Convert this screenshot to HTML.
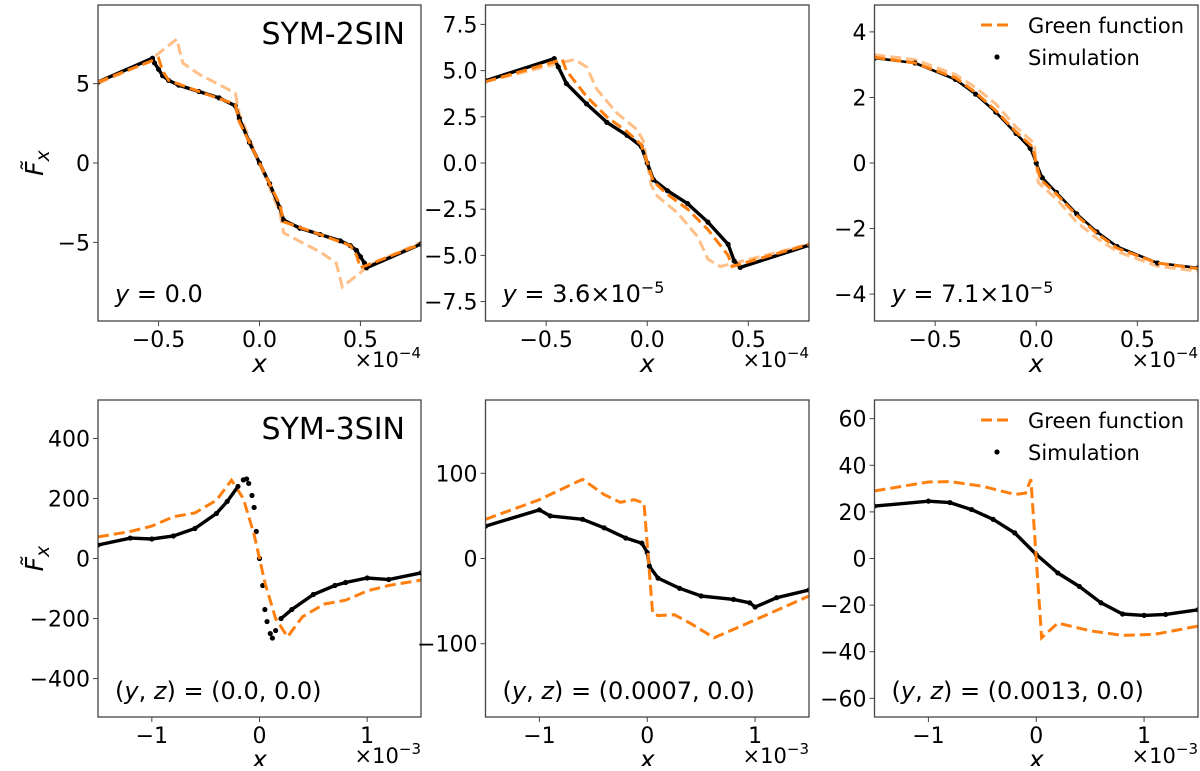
<!DOCTYPE html>
<html><head><meta charset="utf-8"><style>
body{margin:0;background:#fff}
svg text{font-family:"DejaVu Sans","Liberation Sans",sans-serif;fill:#000}
</style></head><body>
<svg id="fig" xmlns="http://www.w3.org/2000/svg" width="1200" height="766" viewBox="0 0 1200 766"></svg>
<script>
// ---- data: panel 1 (SYM-2SIN, y=0)
const p1SimX=[-0.8,-0.53,-0.52,-0.5,-0.48,-0.45,-0.4,-0.3,-0.2,-0.12,-0.1,-0.05,0,0.05,0.1,0.12,0.2,0.3,0.4,0.45,0.48,0.5,0.52,0.53,0.8];
const p1SimY=[5.1,6.6,6.3,5.9,5.5,5.2,4.9,4.5,4.1,3.6,2.8,1.3,0,-1.3,-2.8,-3.6,-4.1,-4.5,-4.9,-5.2,-5.5,-5.9,-6.3,-6.6,-5.1];
const p1GreenX=[-0.8,-0.5,-0.48,-0.45,-0.3,-0.12,-0.1,0,0.1,0.12,0.3,0.45,0.48,0.5,0.8];
const p1GreenY=[5.1,6.6,5.8,5.2,4.5,3.7,2.6,0,-2.6,-3.7,-4.5,-5.2,-5.8,-6.6,-5.1];
const p1LightX=[-0.8,-0.55,-0.41,-0.38,-0.3,-0.12,-0.1,0,0.1,0.12,0.3,0.38,0.41,0.55,0.8];
const p1LightY=[5.0,6.4,7.8,6.3,5.6,4.4,3.1,0,-3.1,-4.4,-5.6,-6.3,-7.8,-6.4,-5.0];
// panel 2 (y=3.6e-5)
const p2SimX=[-0.8,-0.46,-0.44,-0.4,-0.3,-0.2,-0.1,-0.03,0,0.03,0.1,0.2,0.3,0.4,0.43,0.46,0.8];
const p2SimY=[4.45,5.65,5.2,4.3,3.2,2.2,1.5,0.9,0,-0.9,-1.5,-2.2,-3.2,-4.4,-5.3,-5.65,-4.45];
const p2GreenX=[-0.8,-0.42,-0.4,-0.3,-0.2,-0.1,-0.03,0,0.03,0.1,0.2,0.3,0.4,0.42,0.8];
const p2GreenY=[4.4,5.6,5.0,3.6,2.5,1.7,1.0,0,-1.0,-1.7,-2.5,-3.6,-5.0,-5.6,-4.4];
const p2LightX=[-0.8,-0.4,-0.36,-0.3,-0.25,-0.15,-0.05,-0.02,0,0.02,0.05,0.15,0.25,0.3,0.36,0.4,0.8];
const p2LightY=[4.4,5.5,5.6,5.2,4.0,2.7,1.8,1.2,0,-1.2,-1.8,-2.7,-4.0,-5.2,-5.6,-5.5,-4.4];
// panel 3 (y=7.1e-5)
const p3SimX=[-0.8,-0.6,-0.4,-0.3,-0.2,-0.1,-0.03,0,0.03,0.1,0.2,0.3,0.4,0.6,0.8];
const p3SimY=[3.2,3.05,2.55,2.1,1.55,0.9,0.45,0,-0.45,-0.9,-1.55,-2.1,-2.55,-3.05,-3.2];
const p3GreenX=[-0.8,-0.6,-0.4,-0.3,-0.2,-0.1,-0.02,0,0.02,0.1,0.2,0.3,0.4,0.6,0.8];
const p3GreenY=[3.22,3.05,2.6,2.15,1.6,0.95,0.5,0,-0.5,-0.95,-1.6,-2.15,-2.6,-3.05,-3.22];
const p3LightX=[-0.8,-0.6,-0.4,-0.3,-0.2,-0.1,-0.01,0.01,0.1,0.2,0.3,0.4,0.6,0.8];
const p3LightY=[3.3,3.15,2.7,2.3,1.8,1.1,0.6,-0.6,-1.1,-1.8,-2.3,-2.7,-3.15,-3.3];
// panel 4 (SYM-3SIN, (0,0))
const p4SimX=[-1.5,-1.2,-1.0,-0.8,-0.6,-0.4,-0.3,-0.2,-0.15,-0.12,-0.1,-0.07,-0.05,-0.03,0,0.03,0.05,0.07,0.1,0.12,0.15,0.2,0.3,0.5,0.7,0.8,1.0,1.2,1.5];
const p4SimY=[45,68,65,75,100,150,190,240,262,265,250,210,170,90,0,-90,-170,-210,-250,-265,-240,-200,-170,-120,-90,-80,-65,-70,-48];
const p4GreenX=[-1.5,-1.2,-1.0,-0.8,-0.6,-0.4,-0.26,-0.15,-0.05,0,0.05,0.15,0.26,0.4,0.6,0.8,1.0,1.2,1.5];
const p4GreenY=[72,90,108,139,152,194,261,200,80,0,-80,-200,-261,-194,-152,-139,-108,-90,-72];
// panel 5 ((0.0007,0))
const p5SimX=[-1.5,-1.0,-0.9,-0.6,-0.4,-0.2,-0.05,0,0.02,0.1,0.3,0.5,0.8,0.95,1.0,1.2,1.5];
const p5SimY=[38,57,50,46,36,24,18,7,-9,-23,-35,-44,-48,-52,-57,-46,-37];
const p5GreenX=[-1.5,-1.0,-0.6,-0.4,-0.25,-0.12,-0.03,0.05,0.1,0.25,0.4,0.62,1.0,1.5];
const p5GreenY=[46,69,93,75,66,69,65,-64,-67,-66,-76,-93,-72,-44];
// panel 6 ((0.0013,0))
const p6SimX=[-1.5,-1.0,-0.8,-0.6,-0.4,-0.2,0,0.2,0.4,0.6,0.8,1.0,1.2,1.5];
const p6SimY=[22.5,24.6,24,21,16.8,11,1.7,-6.2,-12,-19,-23.8,-24.4,-24,-22];
const p6GreenX=[-1.5,-1.0,-0.8,-0.5,-0.2,-0.1,-0.05,0.05,0.2,0.5,0.8,1.1,1.5];
const p6GreenY=[29,32.8,33,31,27.5,28,34,-34,-27.7,-31,-33,-32.5,-29];
// ticks
const xTicksTop=[-0.5,0,0.5], xTickLabelsTop=["−0.5","0.0","0.5"];
const xTicksBot=[-1,0,1], xTickLabelsBot=["−1","0","1"];
const p1YTicks=[-5,0,5], p1YLabels=["−5","0","5"];
const p2YTicks=[-7.5,-5,-2.5,0,2.5,5,7.5], p2YLabels=["−7.5","−5.0","−2.5","0.0","2.5","5.0","7.5"];
const p3YTicks=[-4,-2,0,2,4], p3YLabels=["−4","−2","0","2","4"];
const p4YTicks=[-400,-200,0,200,400], p4YLabels=["−400","−200","0","200","400"];
const p5YTicks=[-100,0,100], p5YLabels=["−100","0","100"];
const p6YTicks=[-60,-40,-20,0,20,40,60], p6YLabels=["−60","−40","−20","0","20","40","60"];

const NS="http://www.w3.org/2000/svg";
const svg=document.getElementById('fig');
function mk(tag,attrs,parent){const e=document.createElementNS(NS,tag);for(const k in attrs)e.setAttribute(k,attrs[k]);(parent||svg).appendChild(e);return e;}
const ORANGE="#ff7f0e", LIGHT="#ffbf86";

function panel(cfg){
  const g=mk('g',{});
  
  
  const sx=v=>cfg.L+(v-cfg.x0)/(cfg.x1-cfg.x0)*(cfg.R-cfg.L);
  const sy=v=>cfg.B-(v-cfg.y0)/(cfg.y1-cfg.y0)*(cfg.B-cfg.T);
  const clip='c'+cfg.name;
  const cp=mk('clipPath',{id:clip},g);mk('rect',{x:cfg.L,y:cfg.T,width:cfg.R-cfg.L,height:cfg.B-cfg.T},cp);
  const pg=mk('g',{'clip-path':'url(#'+clip+')'},g);
  function line(xs,ys,col,nm){const pts=xs.map((x,i)=>sx(x).toFixed(1)+','+sy(ys[i]).toFixed(1)).join(' ');
    const p=mk('polyline',{points:pts,fill:'none',stroke:col,'stroke-width':3,'stroke-dasharray':'11,5'},pg);
    
    }
  if(cfg.lx) line(cfg.lx,cfg.ly,LIGHT,'green-function-light-line');
  const sw=(cfg.simW===undefined)?3.4:cfg.simW;
  if(sw>0){
    const pts=cfg.sx.map((x,i)=>sx(x).toFixed(1)+','+sy(cfg.sy[i]).toFixed(1)).join(' ');
    const sl=mk('polyline',{points:pts,fill:'none',stroke:'#000','stroke-width':sw,'stroke-linejoin':'round'},pg);
    
    
  }
  cfg.sx.forEach((x,i)=>{const c=mk('circle',{cx:sx(x),cy:sy(cfg.sy[i]),r:2.6,fill:'#000'},pg);
    
    });
  line(cfg.gx,cfg.gy,ORANGE,'green-function-line');
  const fr=mk('rect',{x:cfg.L,y:cfg.T,width:cfg.R-cfg.L,height:cfg.B-cfg.T,fill:'none',stroke:'#444','stroke-width':1.3},g);
  
  
  cfg.yt.forEach((v,i)=>{const y=sy(v);mk('line',{x1:cfg.L-5,x2:cfg.L,y1:y,y2:y,stroke:'#444','stroke-width':1},g);
    const t=mk('text',{x:cfg.L-8,y:y+8,'text-anchor':'end','font-size':22},g);t.textContent=cfg.yl[i];
    
    });
  cfg.xt.forEach((v,i)=>{const x=sx(v);mk('line',{x1:x,x2:x,y1:cfg.B,y2:cfg.B+5,stroke:'#444','stroke-width':1},g);
    const t=mk('text',{x:x,y:cfg.B+26,'text-anchor':'middle','font-size':22},g);t.textContent=cfg.xl[i];
    
    });
  const xl=mk('text',{x:(cfg.L+cfg.R)/2,y:cfg.B+51,'text-anchor':'middle','font-size':25,'font-style':'italic'},g);xl.textContent='x';
  
  
  const ex=mk('text',{x:cfg.R,y:cfg.B+46,'text-anchor':'end','font-size':21},g);
  ex.innerHTML='×10<tspan dy="-9" font-size="15">'+cfg.exp+'</tspan>';
  
  
  const an=mk('text',{x:cfg.L+17,y:cfg.annY,'font-size':24},g);an.innerHTML=cfg.ann;
  
  
  if(cfg.title){const t=mk('text',{x:cfg.R-16,y:cfg.T+39,'text-anchor':'end','font-size':30},g);t.textContent=cfg.title;
    
    }
  if(cfg.ylab){const t=mk('text',{x:0,y:0,'font-size':25,'font-style':'italic',transform:'translate('+(cfg.L-55)+','+((cfg.T+cfg.B)/2)+') rotate(-90)','text-anchor':'middle'},g);
    t.innerHTML='F&#771;<tspan dy="6" font-size="19">x</tspan>';
    
    }
  if(cfg.legend){const ly=cfg.T+20;const lg=mk('g',{},g);
    
    
    mk('line',{x1:981,x2:1013,y1:ly,y2:ly,stroke:ORANGE,'stroke-width':3,'stroke-dasharray':'11,5'},lg);
    const a=mk('text',{x:1028,y:ly+8,'font-size':21},lg);a.textContent='Green function';
    
    
    mk('circle',{cx:997,cy:ly+32,r:2.6,fill:'#000'},lg);
    const b=mk('text',{x:1028,y:ly+40,'font-size':21},lg);b.textContent='Simulation';
    
    }
}
const TT=5,TB=321,BT=400,BB=717;
const C=[[98,421],[485.5,809],[874.5,1198]];
panel({name:'panel-2sin-y0',L:C[0][0],R:C[0][1],T:TT,B:TB,x0:-0.8,x1:0.8,y0:-9.95,y1:9.95,sx:p1SimX,sy:p1SimY,gx:p1GreenX,gy:p1GreenY,lx:p1LightX,ly:p1LightY,yt:p1YTicks,yl:p1YLabels,xt:xTicksTop,xl:xTickLabelsTop,exp:'−4',ann:'<tspan font-style="italic">y</tspan> = 0.0',annY:302,title:'SYM-2SIN',ylab:true});
panel({name:'panel-2sin-y36',L:C[1][0],R:C[1][1],T:TT,B:TB,x0:-0.8,x1:0.8,y0:-8.55,y1:8.55,sx:p2SimX,sy:p2SimY,gx:p2GreenX,gy:p2GreenY,lx:p2LightX,ly:p2LightY,yt:p2YTicks,yl:p2YLabels,xt:xTicksTop,xl:xTickLabelsTop,exp:'−4',ann:'<tspan font-style="italic">y</tspan> = 3.6×10<tspan dy="-9" font-size="16">−5</tspan>',annY:302});
panel({name:'panel-2sin-y71',L:C[2][0],R:C[2][1],T:TT,B:TB,x0:-0.8,x1:0.8,y0:-4.82,y1:4.82,sx:p3SimX,sy:p3SimY,gx:p3GreenX,gy:p3GreenY,lx:p3LightX,ly:p3LightY,yt:p3YTicks,yl:p3YLabels,xt:xTicksTop,xl:xTickLabelsTop,exp:'−4',ann:'<tspan font-style="italic">y</tspan> = 7.1×10<tspan dy="-9" font-size="16">−5</tspan>',annY:302,legend:true,simW:2.6});
panel({name:'panel-3sin-0',L:C[0][0],R:C[0][1],T:BT,B:BB,x0:-1.5,x1:1.5,y0:-528,y1:528,sx:p4SimX,sy:p4SimY,gx:p4GreenX,gy:p4GreenY,yt:p4YTicks,yl:p4YLabels,xt:xTicksBot,xl:xTickLabelsBot,exp:'−3',ann:'(<tspan font-style="italic">y</tspan>, <tspan font-style="italic">z</tspan>) = (0.0, 0.0)',annY:699,title:'SYM-3SIN',ylab:true,simW:0});
panel({name:'panel-3sin-0007',L:C[1][0],R:C[1][1],T:BT,B:BB,x0:-1.5,x1:1.5,y0:-186,y1:186,sx:p5SimX,sy:p5SimY,gx:p5GreenX,gy:p5GreenY,yt:p5YTicks,yl:p5YLabels,xt:xTicksBot,xl:xTickLabelsBot,exp:'−3',ann:'(<tspan font-style="italic">y</tspan>, <tspan font-style="italic">z</tspan>) = (0.0007, 0.0)',annY:699});
panel({name:'panel-3sin-0013',L:C[2][0],R:C[2][1],T:BT,B:BB,x0:-1.5,x1:1.5,y0:-68,y1:68,sx:p6SimX,sy:p6SimY,gx:p6GreenX,gy:p6GreenY,yt:p6YTicks,yl:p6YLabels,xt:xTicksBot,xl:xTickLabelsBot,exp:'−3',ann:'(<tspan font-style="italic">y</tspan>, <tspan font-style="italic">z</tspan>) = (0.0013, 0.0)',annY:699,legend:true});
// panel 4 simulation: continuous thick line away from the steep jump
(function(){
  const L=98,R=421,T=400,B=717;
  const sx=v=>L+(v+1.5)/3*(R-L), sy=v=>B-(v+528)/1056*(B-T);
  const left=[],right=[];
  p4SimX.forEach((x,i)=>{if(x<=-0.2)left.push(sx(x)+','+sy(p4SimY[i]));if(x>=0.2)right.push(sx(x)+','+sy(p4SimY[i]));});
  [left,right].forEach(a=>{const p=mk('polyline',{points:a.join(' '),fill:'none',stroke:'#000','stroke-width':3.4});
    
    });
})();
</script>
</body></html>
